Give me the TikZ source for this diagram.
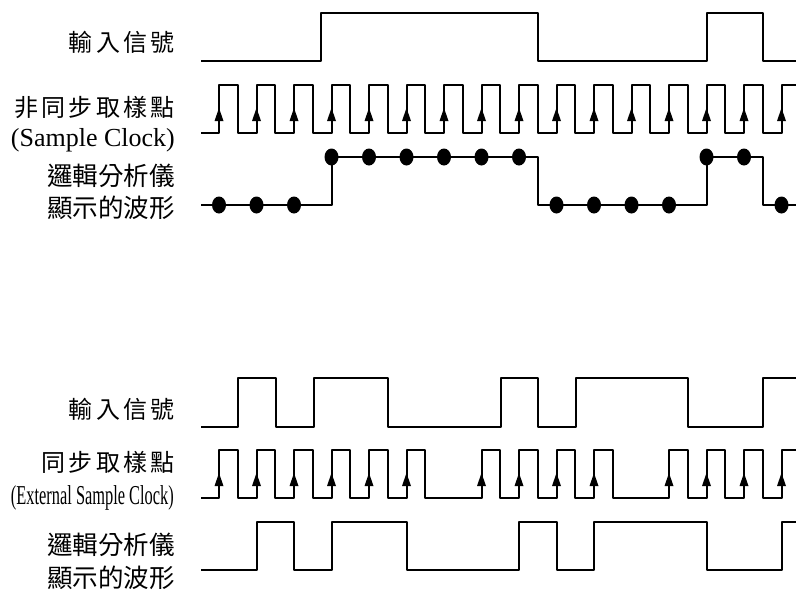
\documentclass[tikz,border=0pt]{standalone}
\usepackage{fontspec}
\usetikzlibrary{shapes.geometric}
\setmainfont{Liberation Serif}
\newfontfamily\cjk{Noto Sans CJK TC}
\newcommand{\zsp}{\hspace{3.3pt}}
\begin{document}
\begin{tikzpicture}[x=1pt,y=-1pt,
  wave/.style={line width=2pt, line join=round, line cap=butt},
  lbl/.style={anchor=east, inner sep=0pt},
  zh/.style={lbl, font=\cjk\fontsize{24}{26}\selectfont},
  zhb/.style={lbl, font=\cjk\fontsize{25.5}{28}\selectfont},
  en/.style={lbl, font=\fontsize{26}{28}\selectfont},
  dot/.style={fill=black, ellipse, minimum width=14pt, minimum height=17pt, inner sep=0pt}]
\useasboundingbox (0,0) rectangle (796,592);
% ---------- labels ----------
\node[zh] (l1) at (175,42) {輸\zsp 入\zsp 信\zsp 號};
\node[zh] (l2) at (175,107) {非\zsp 同\zsp 步\zsp 取\zsp 樣\zsp 點};
\node[en] (l3) at (175,140) {(Sample Clock)};
\node[zhb] (l4) at (175,176) {邏輯分析儀};
\node[zhb] (l5) at (175,208) {顯示的波形};
\node[zh] (m1) at (175,409) {輸\zsp 入\zsp 信\zsp 號};
\node[zh] (m2) at (175,462) {同\zsp 步\zsp 取\zsp 樣\zsp 點};
\node[en] (m3) at (174,498) {\scalebox{0.63}[1.05]{(External Sample Clock)}};
\node[zhb] (m4) at (175,545) {邏輯分析儀};
\node[zhb] (m5) at (175,578) {顯示的波形};
\begin{scope}
\clip (190,0) rectangle (796,592);
% ---------- top: input ----------
\draw[wave] (201,61) -- (321,61) -- (321,13) -- (538,13) -- (538,61) -- (707,61) -- (707,13) -- (763,13) -- (763,61) -- (800,61);
% ---------- top: async clock ----------
\draw[wave] (201,133) \foreach \k in {0,...,15} { -- ({219+37.5*\k},133) -- ({219+37.5*\k},85) -- ({237.75+37.5*\k},85) -- ({237.75+37.5*\k},133) };
\foreach \k in {0,...,15} \fill ({219+37.5*\k-4.5},121) -- ({219+37.5*\k+4.5},121) -- ({219+37.5*\k},108) -- cycle;
% ---------- top: display ----------
\draw[wave] (201,205) -- (331.5,205) -- (331.5,157) -- (538,157) -- (538,205) -- (706.5,205) -- (706.5,157) -- (763,157) -- (763,205) -- (800,205);
\foreach \x in {219,256.5,294,556.5,594,631.5,669,781.5} \node[dot] at (\x,205) {};
\foreach \x in {331.5,369,406.5,444,481.5,519,706.5,744} \node[dot] at (\x,157) {};
% ---------- bottom: input ----------
\draw[wave] (201,427) -- (238,427) -- (238,378) -- (276,378) -- (276,427) -- (314,427) -- (314,378) -- (388,378) -- (388,427) -- (501,427) -- (501,378) -- (538,378) -- (538,427) -- (576,427) -- (576,378) -- (688,378) -- (688,427) -- (763,427) -- (763,378) -- (800,378);
% ---------- bottom: sync clock ----------
\draw[wave] (201,498) \foreach \k in {0,1,2,3,4,5,7,8,9,10,12,13,14,15} { -- ({219+37.5*\k},498) -- ({219+37.5*\k},450) -- ({237.75+37.5*\k},450) -- ({237.75+37.5*\k},498) } -- (800,498);
\foreach \k in {0,1,2,3,4,5,7,8,9,10,12,13,14,15} \fill ({219+37.5*\k-4.5},486) -- ({219+37.5*\k+4.5},486) -- ({219+37.5*\k},473) -- cycle;
% ---------- bottom: display ----------
\draw[wave] (201,570) -- (256.5,570) -- (256.5,522) -- (294,522) -- (294,570) -- (331.5,570) -- (331.5,522) -- (406.5,522) -- (406.5,570) -- (519,570) -- (519,522) -- (556.5,522) -- (556.5,570) -- (594,570) -- (594,522) -- (706.5,522) -- (706.5,570) -- (781.5,570) -- (781.5,522) -- (800,522);
\end{scope}
\end{tikzpicture}
\end{document}
